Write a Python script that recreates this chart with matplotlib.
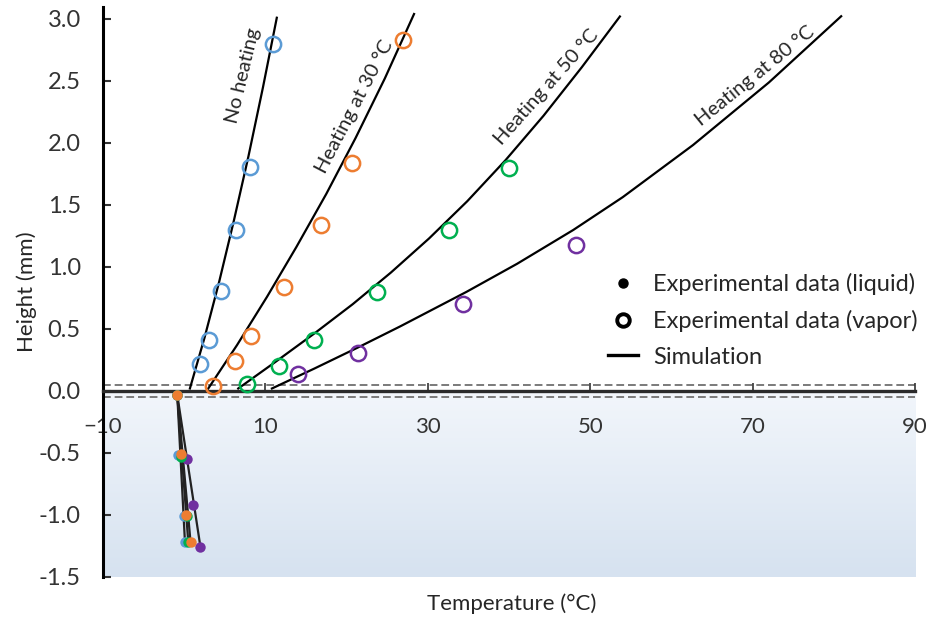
import numpy as np
import matplotlib.pyplot as plt
from matplotlib.lines import Line2D

plt.rcParams['font.family'] = ['Lato', 'DejaVu Sans']

series_names = ['No heating', 'Heating at 30 °C', 'Heating at 50 °C', 'Heating at 80 °C']
colors = ['#5B9BD5', '#ED7D31', '#00B050', '#7030A0']

# vapor side measurements (open circles)
vap_T = [
    [1.9, 3.1, 4.5, 6.4, 8.1, 10.9],
    [3.6, 6.25, 8.2, 12.3, 16.8, 20.7, 26.9],
    [7.7, 11.7, 16.0, 23.7, 32.6, 40.0],
    [14.0, 21.4, 34.3, 48.3],
]
vap_h = [
    [0.22, 0.41, 0.81, 1.30, 1.81, 2.80],
    [0.04, 0.24, 0.44, 0.84, 1.34, 1.84, 2.83],
    [0.06, 0.20, 0.41, 0.80, 1.30, 1.80],
    [0.14, 0.31, 0.70, 1.18],
]

# liquid side measurements (filled dots)
liq_T = [
    [-0.86, -0.73, -0.04, 0.09],
    [-0.86, -0.45, 0.25, 0.78],
    [-0.86, -0.40, 0.29, 0.50],
    [-0.86, 0.38, 1.03, 2.0],
]
liq_h = [
    [-0.03, -0.52, -1.01, -1.22],
    [-0.03, -0.51, -1.00, -1.22],
    [-0.03, -0.53, -1.005, -1.22],
    [-0.03, -0.55, -0.92, -1.26],
]

# simulated profiles
sim_vap_T = [
    [0.7, 2.5, 4.3, 6.1, 7.9, 9.7, 11.4],
    [2.96, 6.5, 10.2, 13.8, 17.5, 21.1, 24.7, 28.3],
    [6.65, 11.35, 16.05, 20.75, 25.45, 30.15, 34.85, 39.55, 44.25, 48.95, 53.65],
    [10.8, 16.0, 21.4, 26.6, 34.75, 41.0, 47.9, 54.0, 62.65, 72.0, 80.9],
]
sim_vap_h = [
    [0.02, 0.43, 0.88, 1.37, 1.89, 2.45, 3.01],
    [0.02, 0.37, 0.76, 1.16, 1.59, 2.04, 2.52, 3.04],
    [0.02, 0.24, 0.465, 0.70, 0.955, 1.23, 1.53, 1.86, 2.22, 2.61, 3.02],
    [0.02, 0.18, 0.351, 0.521, 0.799, 1.026, 1.298, 1.563, 1.983, 2.488, 3.022],
]
sim_liq_T = [[-0.86, 0.09], [-0.86, 0.78], [-0.86, 0.50], [-0.86, 2.0]]
sim_liq_h = [[-0.03, -1.22], [-0.03, -1.22], [-0.03, -1.22], [-0.03, -1.26]]

# curve labels: position (T, h) and angle on screen
label_T = [7.3, 21.0, 44.6, 70.3]
label_h = [2.54, 2.29, 2.45, 2.54]
label_rot = [76.5, 62.5, 48.5, 39.0]

x_ticks = [-10, 10, 30, 50, 70, 90]
y_ticks = [-1.5, -1.0, -0.5, 0.0, 0.5, 1.0, 1.5, 2.0, 2.5, 3.0]

fig = plt.figure(figsize=(9.29, 6.2), dpi=100)
ax = fig.add_axes([0.1109, 0.0694, 0.8741, 0.92])
ax.set_xlim(-10, 90)
ax.set_ylim(-1.5, 3.1)

# shaded liquid region below the interface
grad = np.linspace(0, 1, 256).reshape(-1, 1)
top_c = np.array([242, 246, 251]) / 255
bot_c = np.array([214, 226, 240]) / 255
img = top_c[None, None, :] * (1 - grad[..., None]) + bot_c[None, None, :] * grad[..., None]
ax.imshow(img, extent=[-10, 90, -1.5, 0], aspect='auto', zorder=0)

# interface band
for yy in (0.045, -0.045):
    ax.axhline(yy, color='#7a7a7a', lw=1.4, ls=(0, (4, 2)), zorder=1)

for i in range(4):
    ax.plot(sim_vap_T[i], sim_vap_h[i], color='k', lw=1.6, zorder=2,
            solid_joinstyle='round')
    ax.plot(sim_liq_T[i], sim_liq_h[i], color='#222222', lw=1.6, zorder=2)

for i in [3, 0, 2, 1]:
    ax.plot(liq_T[i], liq_h[i], 'o', color=colors[i], ms=7.5, mec='none', zorder=3)

for i in range(4):
    ax.plot(vap_T[i], vap_h[i], 'o', mfc='none', mec=colors[i], ms=11, mew=1.8, zorder=3)

for i in range(4):
    ax.text(label_T[i], label_h[i], series_names[i], rotation=label_rot[i],
            rotation_mode='anchor', ha='center', va='center', fontsize=14.5, color='#262626')

ax.spines['top'].set_visible(False)
ax.spines['right'].set_visible(False)
ax.spines['bottom'].set_position(('data', 0))
ax.spines['bottom'].set_linewidth(2.4)
ax.spines['bottom'].set_color('#2a2a2a')
ax.spines['left'].set_linewidth(2.2)
ax.spines['left'].set_bounds(-1.5, 3.1)

ax.set_xticks(x_ticks)
ax.set_yticks(y_ticks)
ax.set_yticklabels([f'{v:.1f}' for v in y_ticks])
ax.tick_params(axis='x', direction='in', length=6, width=1.2, pad=19,
               labelsize=16, colors='#333333')
ax.tick_params(axis='y', direction='in', length=6, width=1.5, pad=16,
               labelsize=17, colors='#333333')

fig.text(27 / 929, 1 - 292 / 620, 'Height (mm)', rotation=90, ha='center', va='center',
         fontsize=16, color='#262626')
fig.text(0.551, 0.026, 'Temperature (°C)', ha='center', va='center',
         fontsize=16, color='#262626')

handles = [
    Line2D([], [], ls='', marker='o', color='k', ms=6.5),
    Line2D([], [], ls='', marker='o', mfc='none', mec='k', ms=9, mew=2.8),
    Line2D([], [], color='k', lw=2.4),
]
labels = ['Experimental data (liquid)', 'Experimental data (vapor)', 'Simulation']
ax.legend(handles, labels, loc='upper left', bbox_to_anchor=(0.596, 0.57),
          frameon=False, fontsize=17, handlelength=1.25, handletextpad=0.65,
          labelspacing=0.62, labelcolor='#262626')

fig.savefig('out.png', dpi=100)
